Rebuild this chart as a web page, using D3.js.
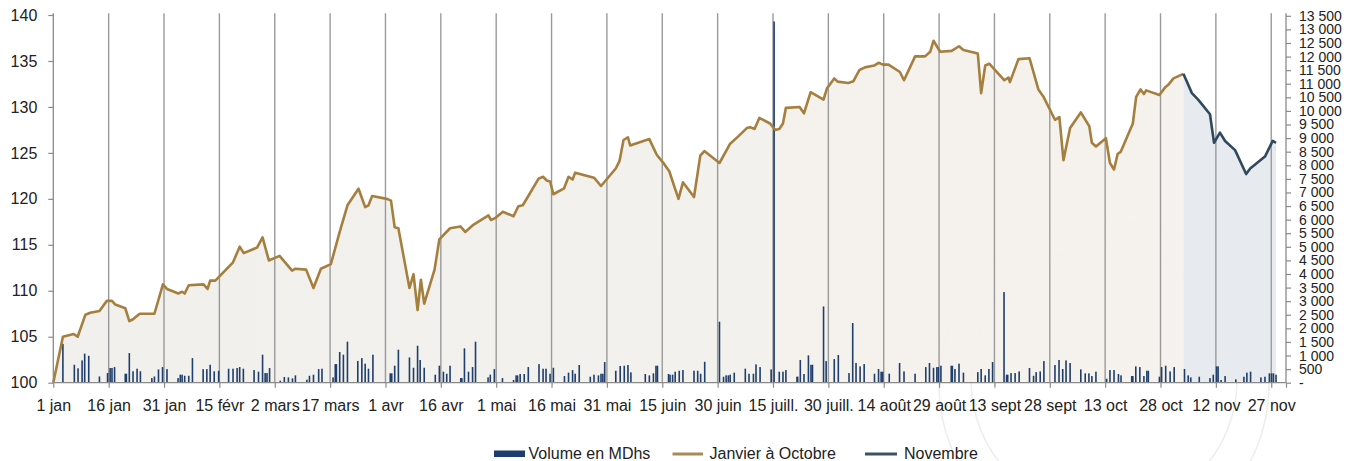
<!DOCTYPE html>
<html><head><meta charset="utf-8">
<script src="https://cdn.jsdelivr.net/npm/d3@7"></script>
<style>
body{margin:0;background:#fff;}
svg{display:block;font-family:"Liberation Sans",Arial,sans-serif;}
</style>
</head><body>
<svg id="c" width="1352" height="461"></svg>
<script>
// ---- data (day offsets from 1 jan) ----
const xTickDays = [0,15,30,45,60,75,90,105,120,135,150,165,180,195,210,225,240,255,270,285,300,315,330];
const xTickLabels = ["1 jan","16 jan","31 jan","15 févr","2 mars","17 mars","1 avr","16 avr","1 mai","16 mai","31 mai","15 juin","30 juin","15 juill.","30 juill.","14 août","29 août","13 sept","28 sept","13 oct","28 oct","12 nov","27 nov"];
const leftTicks = [100,105,110,115,120,125,130,135,140];

const janOctDays = [0,2.6,5.5,6.6,8.7,10.0,12.5,14.5,15.9,16.8,
19.5,20.6,21.6,23.4,27.4,29.7,30.8,33.9,34.9,35.6,
36.7,40.7,41.8,42.5,43.9,48.7,50.5,51.6,55.2,56.7,
58.4,61.3,64.7,65.6,68.5,70.5,72.5,75.2,77.6,79.7,
82.7,84.5,85.4,86.4,90.4,91.5,92.5,93.5,96.5,97.6,
98.7,99.6,100.5,103.3,104.6,107.5,110.3,111.6,113.9,117.9,
118.6,119.7,121.8,124.7,126.0,127.2,128.1,131.5,132.7,133.7,
134.6,135.5,138.4,139.6,140.7,141.4,146.5,148.4,152.4,153.4,
154.5,155.7,156.3,161.5,163.5,165.5,166.9,168.3,169.4,170.6,
173.6,175.3,176.4,180.5,183.4,185.6,187.9,188.8,190.0,191.3,
194.2,195.6,196.7,197.7,198.5,202.2,203.4,205.2,208.7,209.6,
211.6,212.5,215.4,216.8,218.4,219.9,222.4,223.6,224.8,226.3,
229.4,230.5,233.5,236.2,237.6,238.5,240.3,243.4,245.4,246.6,
250.5,251.4,252.5,253.6,257.7,258.8,259.2,261.5,264.5,266.9,
268.3,271.4,272.6,273.7,275.5,278.4,280.7,281.4,282.5,285.2,
286.3,287.4,288.4,289.2,292.5,293.4,294.6,295.5,296.1,299.7,
301.2,302.1,303.5,306.2];
const janOctValues = [100,105.0,105.3,105.0,107.4,107.6,107.8,108.9,108.9,108.5,
108.1,106.7,106.9,107.5,107.5,110.7,110.2,109.7,109.9,109.7,
110.6,110.7,110.2,111.1,111.1,113.1,114.8,114.1,114.7,115.8,
113.3,113.8,112.2,112.4,112.3,110.3,112.4,112.9,116.4,119.3,
121.1,119.1,119.3,120.3,120.0,119.8,116.9,116.8,110.3,111.8,
107.9,111.2,108.6,112.3,115.6,116.8,117.0,116.4,117.2,118.2,
117.7,117.9,118.6,118.1,119.2,119.3,119.9,122.2,122.4,122.0,
121.9,120.5,121.15,122.4,122.1,122.85,122.3,121.4,123.3,124.1,
126.4,126.7,125.8,126.5,124.8,123.8,123.0,121.3,120.0,121.8,
120.2,124.7,125.2,123.9,126.0,126.8,127.7,127.8,127.6,128.8,
128.2,127.5,127.6,128.2,129.9,130.0,129.3,131.6,130.8,132.0,
133.1,132.75,132.6,132.8,134.0,134.3,134.5,134.8,134.6,134.6,
133.8,132.9,135.5,135.5,136.0,137.2,136.0,136.1,136.6,136.2,
135.8,131.5,134.5,134.7,132.9,133.2,132.7,135.2,135.3,131.9,
131.1,128.6,128.9,124.2,127.7,129.4,127.9,126.1,125.7,126.6,
123.9,123.2,124.9,125.1,128.2,131.1,131.9,131.4,131.8,131.3,
132.1,132.4,133.1,133.6];

const novDays = [306.2,308.5,310.2,313.4,314.5,316.1,317.5,320.2,323.2,324.3,328.3,330.4,331.3];
const novValues = [133.6,131.5,130.8,129.2,126.1,127.2,126.3,125.3,122.7,123.3,124.6,126.3,126.1];

const volDays = [2.6,5.7,6.7,7.8,8.5,9.6,12.5,14.7,15.4,15.9,
16.6,19.5,19.8,20.6,21.6,22.7,23.6,26.7,27.4,28.5,
29.6,30.8,33.8,34.4,34.9,35.6,36.7,37.7,40.6,41.6,
42.5,43.6,44.8,47.5,48.7,49.8,50.5,51.5,54.4,55.6,
56.7,57.4,57.9,58.6,61.5,62.6,63.7,64.8,65.6,68.7,
69.4,70.5,71.9,72.8,75.8,76.4,76.7,77.6,78.6,79.7,
82.5,83.6,84.5,85.4,86.6,91.3,91.7,92.5,93.5,96.5,
97.6,98.7,99.4,100.5,103.5,104.6,105.7,106.6,107.5,110.4,
110.7,111.4,112.5,113.6,114.4,117.8,118.4,119.5,121.7,124.7,
125.4,125.8,126.5,127.6,128.7,131.6,132.7,133.5,134.6,135.5,
138.5,139.6,140.7,141.4,142.5,145.5,146.5,147.7,148.4,148.9,
149.4,152.4,153.6,154.7,155.7,156.5,160.4,161.5,162.6,163.3,
163.7,166.7,167.1,167.8,168.5,169.6,170.6,173.6,174.6,175.4,
176.5,180.5,181.6,182.3,182.9,183.4,184.5,187.5,188.5,189.7,
190.4,191.5,194.5,195.3,196.7,197.7,198.5,201.5,201.7,202.4,
203.4,204.6,205.3,205.7,208.7,209.4,211.6,212.7,215.6,216.6,
217.5,218.6,219.7,222.5,223.6,224.3,224.7,226.5,229.3,230.5,
233.5,236.4,237.4,238.5,239.4,239.8,240.5,243.3,243.6,244.3,
245.4,246.6,250.5,251.4,252.5,253.5,254.5,257.6,258.3,258.6,
259.5,260.6,261.7,264.5,265.6,266.3,267.4,268.4,271.4,272.5,
273.5,274.4,275.5,278.4,279.6,280.6,281.4,282.5,285.4,286.3,
287.4,288.6,289.3,292.2,292.5,293.3,294.4,295.5,296.3,296.7,
299.7,300.3,301.4,302.6,303.7,306.5,307.5,308.2,310.5,313.4,
314.3,315.2,315.6,316.4,317.5,320.4,322.6,323.4,324.4,327.2,
328.3,329.5,330.1,330.6,331.3];
const volValues = [1430,660,530,820,1070,990,230,355,540,540,
575,330,330,1090,420,515,420,170,230,490,
575,500,170,295,295,255,255,905,500,500,
660,420,440,515,515,540,575,515,465,405,
1030,355,355,540,75,210,195,160,270,110,
255,295,500,515,195,685,685,1130,1030,1510,
800,905,700,515,1030,345,345,625,1215,930,
550,1360,835,550,295,625,405,330,625,170,
170,1265,405,575,1510,195,295,500,170,100,
270,270,320,320,575,685,515,515,330,550,
245,370,465,330,650,220,295,270,330,330,
760,440,615,625,650,380,320,270,345,625,
625,320,295,295,405,440,465,440,440,330,
770,2245,220,270,270,295,370,515,330,330,
675,575,490,13290,405,405,465,220,220,835,
320,1005,660,660,2805,795,870,1020,355,2195,
725,600,685,330,505,405,405,330,725,415,
330,575,725,550,575,575,625,625,625,505,
700,370,390,505,270,505,760,3335,295,295,
355,355,415,540,255,390,415,795,650,835,
505,820,725,490,345,345,245,405,145,465,
465,320,270,245,245,600,575,245,440,440,
220,575,625,415,575,505,270,195,220,170,
295,600,600,100,245,125,220,370,405,195,
220,345,345,345,295];

const legendLabels = ["Volume en MDhs","Janvier à Octobre","Novembre"];

// ---- drawing ----
const svg = d3.select("#c");
const x = d3.scaleLinear().domain([0,334]).range([53.3,1286]);
const yL = d3.scaleLinear().domain([100,140]).range([382.7,15]);
const yR = d3.scaleLinear().domain([0,13500]).range([382.7,15.8]);
const gold = "#a57f3e", navy = "#2f4a5f", barCol = "#1f3e6c";
const plotTop = 13.3;

// subtle gradient for the Jan-Oct area
const defs = svg.append("defs");
const grad = defs.append("linearGradient").attr("id","gfill")
  .attr("gradientUnits","userSpaceOnUse").attr("x1",53).attr("x2",1186).attr("y1",0).attr("y2",0);
[[0,"#f0efec"],[0.45,"#f1f0ec"],[0.7,"#f4f1ec"],[1,"#f5f1ed"]].forEach(s=>
  grad.append("stop").attr("offset",s[0]).attr("stop-color",s[1]));

// faint watermark rings
const wm = svg.append("g").attr("fill","none").attr("stroke","#ece9e4").attr("stroke-width",1.5).attr("opacity",0.8);
wm.append("circle").attr("cx",1104).attr("cy",385).attr("r",165);
wm.append("circle").attr("cx",1104).attr("cy",380).attr("r",133);

const janOct = janOctDays.map((d,i)=>({d, v:janOctValues[i]}));
const nov = novDays.map((d,i)=>({d, v:novValues[i]}));
const vols = volDays.map((d,i)=>({d, v:volValues[i]}));

const area = d3.area().x(p=>x(p.d)).y0(yL(100)).y1(p=>yL(p.v));
const line = d3.line().x(p=>x(p.d)).y(p=>yL(p.v));

svg.append("path").datum(janOct).attr("d",area).attr("fill","url(#gfill)").attr("opacity",0.95);
svg.append("path").datum(nov).attr("d",area).attr("fill","#e6eaee").attr("opacity",0.95);

// grid lines
svg.append("g").selectAll("line").data(xTickDays.slice(1)).join("line")
  .attr("x1",d=>x(d)).attr("x2",d=>x(d)).attr("y1",plotTop).attr("y2",yL(100))
  .attr("stroke","#9a9a9a").attr("stroke-width",1.4);

// volume bars
svg.append("g").selectAll("rect").data(vols).join("rect")
  .attr("x",p=>x(p.d)-0.8).attr("width",1.6)
  .attr("y",p=>yR(p.v)).attr("height",p=>yR(0)-yR(p.v))
  .attr("fill",barCol);

// lines
svg.append("path").datum(janOct).attr("d",line).attr("fill","none")
  .attr("stroke",gold).attr("stroke-width",2.6).attr("stroke-linejoin","round");
svg.append("path").datum(nov).attr("d",line).attr("fill","none")
  .attr("stroke",navy).attr("stroke-width",2.6).attr("stroke-linejoin","round");

// axes
const axCol = "#8a8a8a", txtCol = "#222";
const gL = svg.append("g").attr("transform",`translate(${x(0)},0)`)
  .call(d3.axisLeft(yL).tickValues(leftTicks).tickSize(5).tickPadding(11).tickSizeOuter(0));
const gR = svg.append("g").attr("transform",`translate(${x(334)},0)`)
  .call(d3.axisRight(yR).tickValues(d3.range(0,13501,500)).tickSize(5).tickPadding(8).tickSizeOuter(0)
    .tickFormat(d=> d===0 ? "-" : d3.format(",")(d).replace(/,/g," ")));
const gB = svg.append("g").attr("transform",`translate(0,${yL(100)})`)
  .call(d3.axisBottom(x).tickValues(xTickDays.concat([334])).tickSize(5).tickPadding(12).tickSizeOuter(0)
    .tickFormat((d,i)=> xTickLabels[i] || ""));
[gL,gR,gB].forEach(g=>{
  g.select(".domain").remove();
  g.selectAll(".tick line").attr("stroke",axCol).attr("stroke-width",1.2);
  g.selectAll("text").attr("fill",txtCol);
});
gL.selectAll("text").attr("font-size",16);
gB.selectAll("text").attr("font-size",16);
gR.selectAll("text").attr("font-size",14);

svg.append("line").attr("x1",x(0)).attr("x2",x(0)).attr("y1",plotTop).attr("y2",yL(100))
  .attr("stroke",axCol).attr("stroke-width",1.3);
svg.append("line").attr("x1",x(334)).attr("x2",x(334)).attr("y1",plotTop).attr("y2",yL(100))
  .attr("stroke",axCol).attr("stroke-width",1.3);
svg.append("line").attr("x1",x(0)).attr("x2",x(334)).attr("y1",yL(100)).attr("y2",yL(100))
  .attr("stroke",axCol).attr("stroke-width",1.3);

// legend
const lg = svg.append("g").attr("font-size",16).attr("fill",txtCol);
lg.append("rect").attr("x",494).attr("y",450.5).attr("width",31).attr("height",6.5).attr("fill","#1d3d6e");
lg.append("text").attr("x",528.5).attr("y",459).text(legendLabels[0]);
lg.append("line").attr("x1",672.5).attr("x2",703).attr("y1",454).attr("y2",454).attr("stroke","#a88a5c").attr("stroke-width",3);
lg.append("text").attr("x",709.5).attr("y",459).text(legendLabels[1]);
lg.append("line").attr("x1",865).attr("x2",897).attr("y1",454).attr("y2",454).attr("stroke","#3b5263").attr("stroke-width",3);
lg.append("text").attr("x",904).attr("y",459).text(legendLabels[2]);
</script>
</body></html>
